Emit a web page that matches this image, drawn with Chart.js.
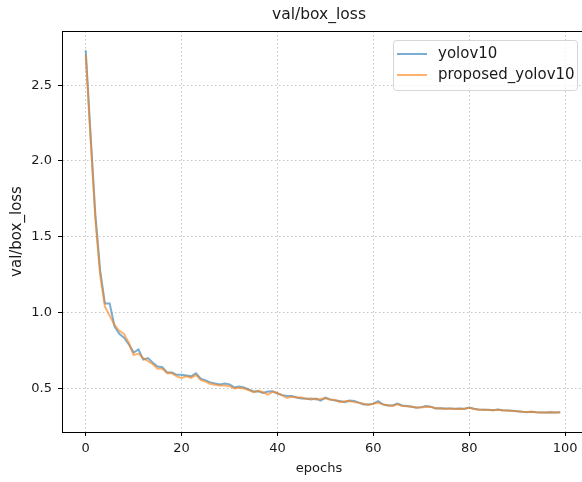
<!DOCTYPE html>
<html>
<head>
<meta charset="utf-8">
<script src="https://cdn.jsdelivr.net/npm/chart.js@4.4.1/dist/chart.umd.min.js"></script>
<style>
html, body { margin: 0; padding: 0; background: #fff; overflow: hidden; }
canvas { display: block; }
</style>
</head>
<body>
<canvas id="loss_chart" width="590" height="482"></canvas>
<script>
// values, one per epoch (0..99)
const yolov10Loss = [
    2.73, 2.18, 1.65, 1.28, 1.06, 1.06, 0.91, 0.86, 0.835, 0.79,
    0.737, 0.757, 0.69, 0.70, 0.67, 0.645, 0.64, 0.605, 0.605, 0.59,
    0.59, 0.585, 0.58, 0.60, 0.565, 0.553, 0.54, 0.533, 0.527, 0.533,
    0.527, 0.507, 0.513, 0.507, 0.493, 0.48, 0.482, 0.47, 0.48, 0.482,
    0.467, 0.456, 0.45, 0.45, 0.44, 0.434, 0.434, 0.428, 0.434, 0.42,
    0.44, 0.428, 0.42, 0.417, 0.41, 0.42, 0.417, 0.407, 0.395, 0.395,
    0.40, 0.417, 0.395, 0.388, 0.388, 0.40, 0.388, 0.384, 0.38, 0.373,
    0.377, 0.384, 0.38, 0.368, 0.37, 0.368, 0.368, 0.366, 0.368, 0.366,
    0.375, 0.366, 0.362, 0.36, 0.36, 0.357, 0.362, 0.357, 0.355, 0.353,
    0.35, 0.347, 0.344, 0.347, 0.344, 0.342, 0.342, 0.344, 0.342, 0.344
];
const proposedLoss = [
    2.70, 2.15, 1.62, 1.25, 1.04, 0.98, 0.92, 0.88, 0.86, 0.80,
    0.72, 0.73, 0.70, 0.68, 0.66, 0.63, 0.63, 0.60, 0.60, 0.58,
    0.57, 0.58, 0.57, 0.59, 0.555, 0.545, 0.53, 0.525, 0.52, 0.52,
    0.515, 0.50, 0.505, 0.50, 0.49, 0.475, 0.485, 0.475, 0.46, 0.478,
    0.47, 0.455, 0.437, 0.445, 0.44, 0.44, 0.43, 0.435, 0.428, 0.43,
    0.435, 0.425, 0.425, 0.41, 0.415, 0.418, 0.41, 0.405, 0.40, 0.392,
    0.40, 0.405, 0.395, 0.39, 0.385, 0.395, 0.385, 0.382, 0.38, 0.375,
    0.375, 0.38, 0.378, 0.37, 0.37, 0.365, 0.368, 0.364, 0.366, 0.365,
    0.372, 0.365, 0.36, 0.36, 0.358, 0.356, 0.36, 0.355, 0.354, 0.352,
    0.35, 0.346, 0.345, 0.346, 0.343, 0.341, 0.342, 0.343, 0.342, 0.343
];
const xTicks = [0, 20, 40, 60, 80, 100];
const yTicks = [0.5, 1.0, 1.5, 2.0, 2.5];

const FONT = 'DejaVu Sans';
const BLUE = 'rgba(31,119,180,0.6)';
const ORANGE = 'rgba(255,127,14,0.6)';

function toPoints(arr) {
    return arr.map(function (v, i) { return { x: i, y: v }; });
}

// axes frame + texts + legend, matplotlib style
const decorPlugin = {
    id: 'decor',
    afterDatasetsDraw: function (chart) {
        const ctx = chart.ctx;
        const a = chart.chartArea;
        ctx.save();
        ctx.strokeStyle = '#000';
        ctx.lineWidth = 1;
        ctx.strokeRect(a.left + 0.5, a.top + 0.5, a.right - a.left, a.bottom - a.top);

        // legend
        const lw = 184, lh = 50;
        const lx = a.right - 7 - lw, ly = a.top + 9;
        ctx.beginPath();
        ctx.roundRect(lx + 0.5, ly + 0.5, lw, lh, 3);
        ctx.fillStyle = 'rgba(255,255,255,0.8)';
        ctx.fill();
        ctx.strokeStyle = 'rgba(204,204,204,0.8)';
        ctx.stroke();
        ctx.font = '15px "' + FONT + '"';
        ctx.textBaseline = 'middle';
        ctx.textAlign = 'left';
        chart.data.datasets.forEach(function (ds, i) {
            const yy = ly + 14 + i * 21;
            ctx.beginPath();
            ctx.moveTo(lx + 4, yy);
            ctx.lineTo(lx + 34, yy);
            ctx.strokeStyle = ds.borderColor;
            ctx.lineWidth = 2;
            ctx.stroke();
            ctx.fillStyle = '#1a1a1a';
            ctx.fillText(ds.label, lx + 45, yy);
        });
        ctx.restore();
    },
    afterDraw: function (chart) {
        const ctx = chart.ctx;
        const a = chart.chartArea;
        ctx.save();
        ctx.fillStyle = '#1a1a1a';
        ctx.textAlign = 'center';
        ctx.textBaseline = 'middle';
        ctx.font = '15.5px "' + FONT + '"';
        ctx.fillText('val/box_loss', 319, a.top - 16);
        ctx.font = '13px "' + FONT + '"';
        ctx.fillText('epochs', 319, a.bottom + 37);
        ctx.font = '15px "' + FONT + '"';
        ctx.translate(17, (a.top + a.bottom) / 2);
        ctx.rotate(-Math.PI / 2);
        ctx.fillText('val/box_loss', 0, 0);
        ctx.restore();
    }
};

const gridOpts = {
    color: 'rgba(176,176,176,0.9)',
    lineWidth: 0.8,
    tickLength: 4,
    tickColor: '#000',
    tickWidth: 1
};

const ctx = document.getElementById('loss_chart').getContext('2d');
window.lossChart = new Chart(ctx, {
    type: 'line',
    data: {
        datasets: [{
            label: 'yolov10',
            data: toPoints(yolov10Loss),
            borderColor: BLUE,
            borderWidth: 2,
            pointRadius: 0,
            fill: false,
            order: 1
        }, {
            label: 'proposed_yolov10',
            data: toPoints(proposedLoss),
            borderColor: ORANGE,
            borderWidth: 2,
            pointRadius: 0,
            fill: false,
            order: 0
        }]
    },
    options: {
        responsive: false,
        animation: false,
        layout: { padding: { left: 0, top: 31, right: 6, bottom: 0 } },
        plugins: {
            legend: { display: false },
            tooltip: { enabled: false },
            title: { display: false }
        },
        scales: {
            x: {
                type: 'linear',
                min: -4.95,
                max: 103.95,
                afterBuildTicks: function (axis) {
                    axis.ticks = xTicks.map(function (v) { return { value: v }; });
                },
                afterFit: function (scale) { scale.height = 50; },
                ticks: {
                    autoSkip: false,
                    maxRotation: 0,
                    padding: 5,
                    color: '#1a1a1a',
                    font: { family: FONT, size: 13 },
                    callback: function (v) { return String(v); }
                },
                grid: gridOpts,
                border: { display: true, color: '#000', width: 1, dash: [1.5, 2.5] }
            },
            y: {
                min: 0.213,
                max: 2.857,
                afterBuildTicks: function (axis) {
                    axis.ticks = yTicks.map(function (v) { return { value: v }; });
                },
                afterFit: function (scale) { scale.width = 62; },
                ticks: {
                    padding: 6,
                    color: '#1a1a1a',
                    font: { family: FONT, size: 13 },
                    callback: function (v) { return v.toFixed(1); }
                },
                grid: gridOpts,
                border: { display: true, color: '#000', width: 1, dash: [1.5, 2.5] }
            }
        }
    },
    plugins: [decorPlugin]
});
</script>
</body>
</html>
